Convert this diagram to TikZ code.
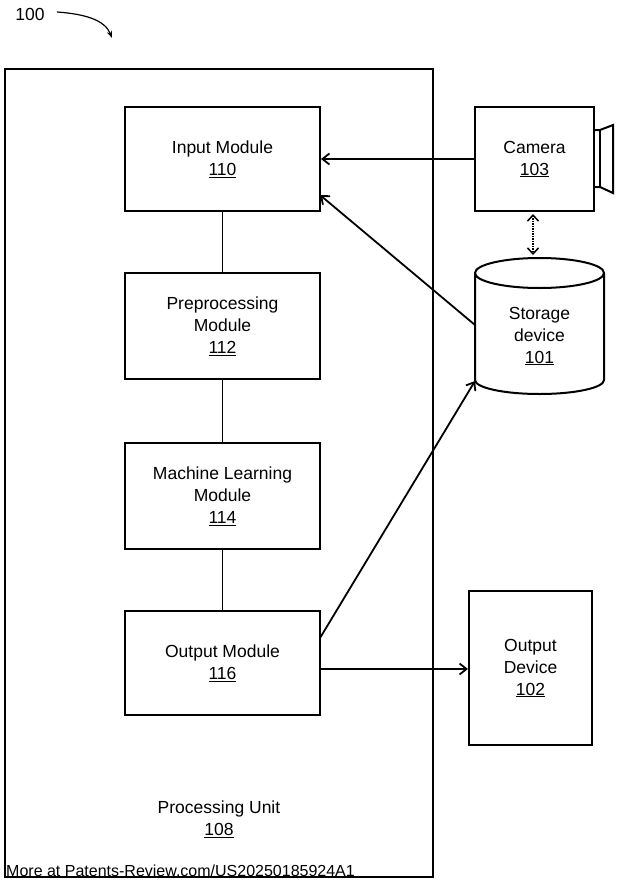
\documentclass[tikz,border=0pt]{standalone}
\usepackage{fontspec}
\setmainfont{Liberation Sans}
\usetikzlibrary{arrows.meta}
\begin{document}
\begin{tikzpicture}[x=1pt,y=-1pt,
  box/.style={draw,line width=2pt},
  lbl/.style={font=\fontsize{17.5}{22}\selectfont,align=center},
  arr/.style={line width=1.8pt,-{Straight Barb[length=7pt,width=11pt]}}]
\useasboundingbox (0,0) rectangle (619,888);
\draw[box] (5,69) rectangle (433,877);
\node[box,minimum width=195pt,minimum height=104pt,lbl] (in) at (222.5,159) {Input Module\\\underline{110}};
\node[box,minimum width=195pt,minimum height=106pt,lbl] (pre) at (222.5,326) {Preprocessing\\Module\\\underline{112}};
\node[box,minimum width=195pt,minimum height=106pt,lbl] (ml) at (222.5,496) {Machine Learning\\Module\\\underline{114}};
\node[box,minimum width=195pt,minimum height=104pt,lbl] (out) at (222.5,663) {Output Module\\\underline{116}};
\node[box,minimum width=119pt,minimum height=104pt,lbl] (cam) at (534.5,159) {Camera\\\underline{103}};
\draw[box] (594,130) -- (600,130) -- (613,125) -- (613,193) -- (600,187) -- (594,187);
\draw[box] (600,130) -- (600,187);
\node[box,minimum width=123pt,minimum height=154pt,lbl] (od) at (530.5,668) {Output\\Device\\\underline{102}};
\draw[box,fill=white] (475,273) -- (475,380) arc[start angle=180,end angle=360,x radius=64.5pt,y radius=14pt] -- (604,273) arc[start angle=0,end angle=360,x radius=64.5pt,y radius=15pt];
\node[lbl] (stl) at (539.5,336) {Storage\\device\\\underline{101}};
\coordinate (stL) at (475,325);
\coordinate (stB) at (475,381);
\draw[line width=1.8pt] (in.south) -- (pre.north) (pre.south) -- (ml.north) (ml.south) -- (out.north);
\draw[arr] (cam.west) -- (in.east);
\draw[arr] (stL) -- (320,195);
\draw[arr] (320,638) -- (stB);
\draw[arr] (out.east) ++(0,6) -- (od.west |- 669,669);
\draw[line width=1.5pt,densely dotted,{Straight Barb[length=6pt,width=11pt]}-{Straight Barb[length=6pt,width=11pt]}] (533,214) -- (533,255);
\node[lbl] (n100) at (30,14) {100};
\draw[line width=1.2pt,-{Stealth[length=7pt]}] (57,12) .. controls (85,14) and (105,20) .. (112,38);
\node[lbl] (pu) at (219,819) {Processing Unit\\\underline{108}};
\node[font=\fontsize{16}{18}\selectfont,anchor=west,inner sep=0] (wm) at (6,871) {More at Patents-Review.com/US20250185924A1};
\end{tikzpicture}
\end{document}
